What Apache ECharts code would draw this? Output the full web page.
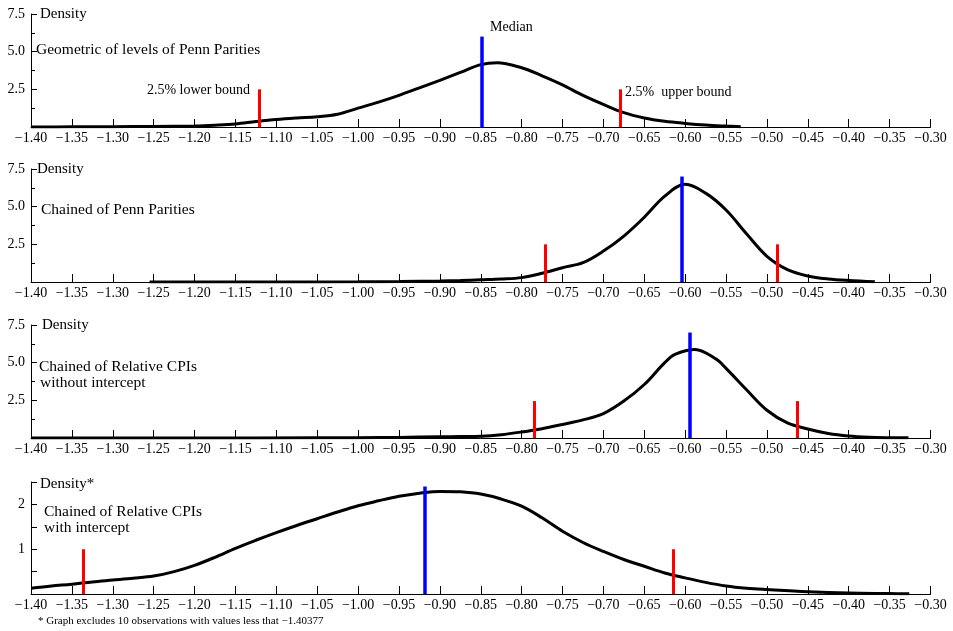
<!DOCTYPE html>
<html>
<head>
<meta charset="utf-8">
<script src="https://cdn.jsdelivr.net/npm/echarts@6/dist/echarts.min.js"></script>
<style>
  html, body { margin: 0; padding: 0; background: #fff; }
  #chart { width: 953px; height: 631px; }
</style>
</head>
<body>
<div id="chart"></div>
<script>
// density curves (x = value, y = density)
var geoX = [-1.40, -1.35, -1.30, -1.25, -1.20, -1.175, -1.15, -1.125, -1.10, -1.075, -1.05, -1.025, -1.00, -0.975, -0.95, -0.925, -0.90, -0.875, -0.85, -0.83, -0.80, -0.775, -0.75, -0.725, -0.70, -0.675, -0.65, -0.625, -0.60, -0.575, -0.55, -0.532];
var geoY = [0.0, 0.01, 0.02, 0.04, 0.07, 0.12, 0.2, 0.36, 0.5, 0.6, 0.68, 0.85, 1.25, 1.65, 2.1, 2.6, 3.1, 3.62, 4.14, 4.27, 3.93, 3.4, 2.8, 2.1, 1.5, 0.95, 0.6, 0.38, 0.24, 0.13, 0.06, 0.02];

var pennX = [-1.255, -1.10, -1.00, -0.95, -0.90, -0.875, -0.85, -0.825, -0.80, -0.775, -0.75, -0.725, -0.70, -0.675, -0.65, -0.625, -0.60, -0.575, -0.55, -0.525, -0.50, -0.475, -0.45, -0.425, -0.40, -0.368];
var pennY = [0.0, 0.0, 0.01, 0.03, 0.07, 0.1, 0.15, 0.2, 0.29, 0.58, 0.95, 1.28, 2.05, 3.05, 4.3, 5.7, 6.48, 5.9, 4.78, 3.2, 1.7, 0.82, 0.4, 0.2, 0.1, 0.02];

var noIntX = [-1.40, -1.20, -1.05, -1.00, -0.95, -0.90, -0.875, -0.85, -0.825, -0.80, -0.775, -0.75, -0.725, -0.70, -0.675, -0.65, -0.625, -0.6125, -0.588, -0.5625, -0.55, -0.525, -0.50, -0.475, -0.45, -0.425, -0.40, -0.375, -0.35, -0.327];
var noIntY = [0.0, 0.0, 0.01, 0.02, 0.04, 0.08, 0.1, 0.12, 0.22, 0.4, 0.62, 0.9, 1.2, 1.62, 2.45, 3.55, 5.0, 5.55, 5.88, 5.25, 4.62, 3.2, 1.84, 1.0, 0.6, 0.3, 0.13, 0.05, 0.02, 0.01];

var withIntX = [-1.40, -1.375, -1.35, -1.325, -1.30, -1.275, -1.25, -1.225, -1.20, -1.175, -1.15, -1.125, -1.10, -1.075, -1.05, -1.025, -1.00, -0.975, -0.95, -0.925, -0.90, -0.875, -0.85, -0.825, -0.80, -0.775, -0.75, -0.725, -0.70, -0.675, -0.65, -0.625, -0.60, -0.575, -0.55, -0.525, -0.50, -0.45, -0.40, -0.35, -0.326];
var withIntY = [0.13, 0.18, 0.22, 0.27, 0.31, 0.35, 0.4, 0.5, 0.64, 0.82, 1.02, 1.2, 1.37, 1.53, 1.68, 1.83, 1.97, 2.08, 2.18, 2.25, 2.29, 2.28, 2.23, 2.12, 1.96, 1.7, 1.4, 1.15, 0.95, 0.77, 0.62, 0.47, 0.36, 0.26, 0.18, 0.13, 0.1, 0.05, 0.02, 0.01, 0.005];

// 2.5% lower bound, median, 2.5% upper bound for each panel
var lowerBounds = [-1.121, -0.771, -0.784, -1.336];
var medians = [-0.849, -0.6046, -0.594, -0.919];
var upperBounds = [-0.680, -0.488, -0.463, -0.614];
var boundHeights = [2.5, 2.5, 2.45, 1.0];
var medianHeights = [6.0, 7.0, 7.0, 2.4];

var yMax = [7.5, 7.5, 7.5, 2.5];
var xMin = -1.40, xMax = -0.30, xStep = 0.05;

var serif = "'Liberation Serif', 'Times New Roman', serif";

var curves = [[geoX, geoY], [pennX, pennY], [noIntX, noIntY], [withIntX, withIntY]];
var gridTops = [14, 169, 325, 482];
var gridH = [113, 113, 113, 112];

var chart = echarts.init(document.getElementById('chart'));

var grids = [], xAxes = [], yAxes = [], series = [];
for (var i = 0; i < 4; i++) {
  grids.push({ left: 31, right: 22.5, top: gridTops[i], height: gridH[i] });
  xAxes.push({
    gridIndex: i, type: 'value', min: xMin, max: xMax, interval: xStep,
    axisLine: { onZero: false, lineStyle: { color: '#000', width: 1 } },
    axisTick: { inside: true, length: 8, lineStyle: { color: '#000' } },
    axisLabel: {
      color: '#000', fontSize: 14, fontFamily: serif, margin: 4,
      formatter: function (v) { return v.toFixed(2).replace('-', '\u2212'); }
    },
    splitLine: { show: false }
  });
  var small = i === 3;
  yAxes.push({
    gridIndex: i, type: 'value', min: 0, max: yMax[i],
    interval: small ? 0.5 : 2.5,
    axisLine: { show: true, lineStyle: { color: '#000', width: 1 } },
    axisTick: { show: true, inside: true, length: 6, lineStyle: { color: '#000' } },
    minorTick: { show: !small, splitNumber: 2, length: 4, lineStyle: { color: '#000' } },
    axisLabel: {
      color: '#000', fontSize: 14, fontFamily: serif, margin: 6,
      formatter: small
        ? function (v) { return (v > 0 && Math.abs(v - Math.round(v)) < 1e-6) ? String(Math.round(v)) : ''; }
        : function (v) { return v > 0 ? v.toFixed(1) : ''; }
    },
    splitLine: { show: false },
    minorSplitLine: { show: false }
  });

  var pts = curves[i][0].map(function (x, k) { return [x, curves[i][1][k]]; });
  series.push({
    type: 'line', xAxisIndex: i, yAxisIndex: i,
    data: pts, smooth: 0.35, showSymbol: false, silent: true,
    lineStyle: { color: '#000', width: 3 },
    markLine: {
      silent: true, symbol: ['none', 'none'], label: { show: false },
      lineStyle: { type: 'solid', width: 3 },
      data: [
        [{ coord: [lowerBounds[i], 0], lineStyle: { color: '#ff0000', width: 3, type: 'solid' } }, { coord: [lowerBounds[i], boundHeights[i]] }],
        [{ coord: [upperBounds[i], 0], lineStyle: { color: '#ff0000', width: 3, type: 'solid' } }, { coord: [upperBounds[i], boundHeights[i]] }],
        [{ coord: [medians[i], 0], lineStyle: { color: '#0000ff', width: 3.5, type: 'solid' } }, { coord: [medians[i], medianHeights[i]] }]
      ]
    }
  });
}

function txt(s, x, y, size, align) {
  return {
    type: 'text', x: x, y: y, silent: true,
    style: {
      text: s, fill: '#000', font: size + 'px ' + serif,
      textAlign: align || 'left', textVerticalAlign: 'middle',
      align: align || 'left', verticalAlign: 'middle'
    }
  };
}

var texts = [
  txt('Density', 40, 14, 15),
  txt('Geometric of levels of Penn Parities', 36, 50, 15.5),
  txt('Median', 490, 27, 14),
  txt('2.5% lower bound', 250, 90, 14, 'right'),
  txt('2.5%  upper bound', 625, 92, 14),
  txt('Density', 37, 169, 15),
  txt('Chained of Penn Parities', 41, 210, 15.5),
  txt('Density', 42, 325, 15),
  txt('Chained of Relative CPIs', 39, 367, 15.5),
  txt('without intercept', 40, 383, 15.5),
  txt('Density*', 40, 484, 15),
  txt('Chained of Relative CPIs', 44, 512, 15.5),
  txt('with intercept', 44, 528, 15.5),
  txt('* Graph excludes 10 observations with values less that \u22121.40377', 38, 621, 11)
];

chart.setOption({
  animation: false,
  backgroundColor: '#fff',
  grid: grids,
  xAxis: xAxes,
  yAxis: yAxes,
  series: series,
  graphic: texts
});
</script>
</body>
</html>
